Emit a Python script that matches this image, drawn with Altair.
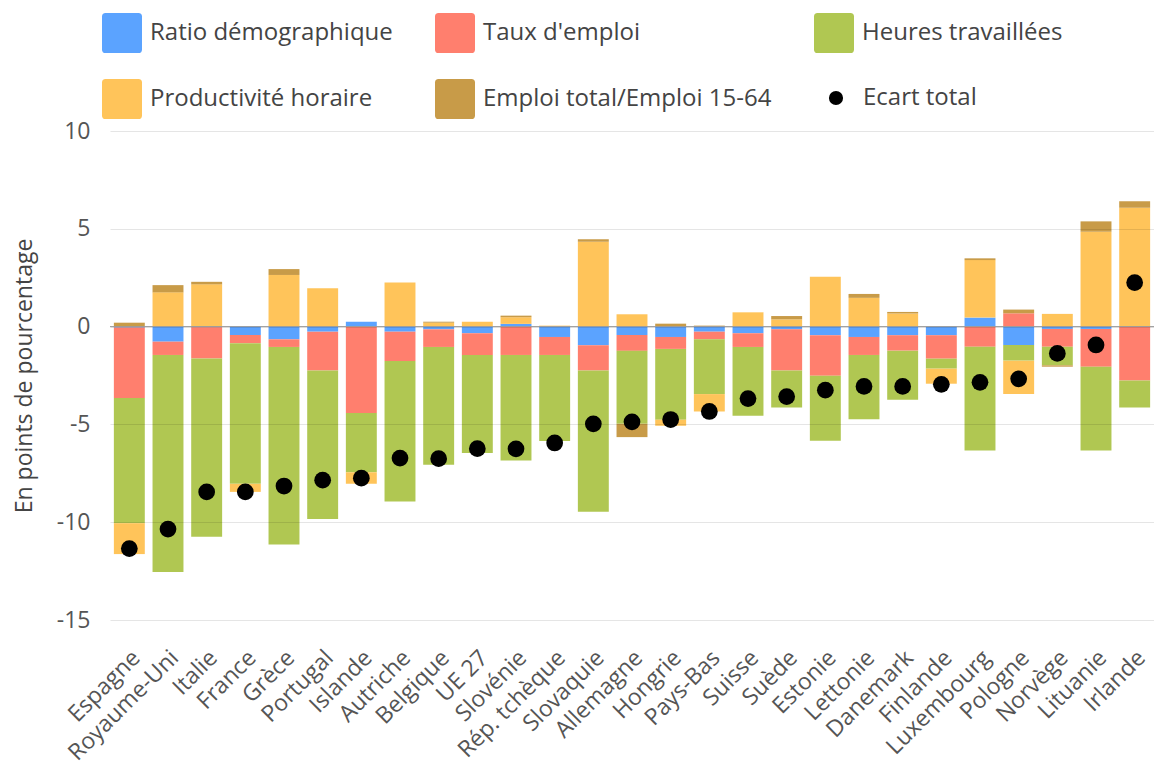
import altair as alt
import pandas as pd

countries = ["Espagne", "Royaume-Uni", "Italie", "France", "Grèce", "Portugal", "Islande",
             "Autriche", "Belgique", "UE 27", "Slovénie", "Rép. tchèque", "Slovaquie",
             "Allemagne", "Hongrie", "Pays-Bas", "Suisse", "Suède", "Estonie", "Lettonie",
             "Danemark", "Finlande", "Luxembourg", "Pologne", "Norvège", "Lituanie", "Irlande"]

ratio_demo = [-0.05, -0.77, -0.03, -0.43, -0.65, -0.26, 0.25, -0.26, -0.14, -0.34, 0.14, -0.53, -0.95,
              -0.43, -0.53, -0.26, -0.34, -0.14, -0.44, -0.53, -0.44, -0.44, 0.46, -0.94, -0.12, -0.12, 0.0]
taux_emploi = [-3.6, -0.68, -1.6, -0.42, -0.39, -1.99, -4.42, -1.5, -0.9, -1.11, -1.45, -0.92, -1.29,
               -0.81, -0.61, -0.39, -0.7, -2.1, -2.07, -0.92, -0.79, -1.2, -1.03, 0.68, -0.91, -1.93, -2.75]
heures = [-6.4, -11.1, -9.12, -7.19, -10.1, -7.59, -3.03, -7.18, -6.02, -5.01, -5.39, -4.4, -7.22,
          -3.73, -3.62, -2.8, -3.52, -1.89, -3.32, -3.29, -2.51, -0.51, -5.31, -0.8, -0.95, -4.29, -1.39]
productivite = [-1.58, 1.75, 2.16, -0.41, 2.64, 1.96, -0.58, 2.26, 0.2, 0.25, 0.34, 0.05, 4.34,
                0.63, -0.31, -0.89, 0.73, 0.37, 2.55, 1.47, 0.67, -0.77, 2.94, -1.7, 0.65, 4.85, 6.08]
emploi_total = [0.2, 0.37, 0.13, 0.0, 0.3, 0.0, 0.0, 0.0, 0.05, 0.0, 0.08, 0.0, 0.12,
                -0.68, 0.15, 0.05, 0.0, 0.17, 0.0, 0.2, 0.08, 0.0, 0.09, 0.19, -0.07, 0.53, 0.33]
ecart_total = [-11.35, -10.35, -8.45, -8.45, -8.15, -7.85, -7.75, -6.72, -6.75, -6.24, -6.25, -5.95, -4.97,
               -4.87, -4.75, -4.34, -3.68, -3.58, -3.25, -3.06, -3.06, -2.95, -2.85, -2.67, -1.37, -0.94, 2.25]

series_names = ["Ratio démographique", "Taux d'emploi", "Heures travaillées",
                "Productivité horaire", "Emploi total/Emploi 15-64"]
series_colors = ["#5ba3ff", "#ff7f6e", "#b0c752", "#ffc45a", "#c89b48"]
dot_name = "Ecart total"
dot_color = "#000000"

series_values = [ratio_demo, taux_emploi, heures, productivite, emploi_total]
rows = []
for i, c in enumerate(countries):
    for k, (name, vals) in enumerate(zip(series_names, series_values)):
        if vals[i] != 0:
            rows.append({"pays": c, "serie": name, "ordre": k, "valeur": vals[i]})
bars_df = pd.DataFrame(rows)
dots_df = pd.DataFrame({"pays": countries, "serie": dot_name, "valeur": ecart_total})
zero_df = pd.DataFrame({"valeur": [0]})

FONT = "Open Sans"
sym_path = ("M-0.82,-1L0.82,-1Q1,-1,1,-0.82L1,0.82Q1,1,0.82,1L-0.82,1Q-1,1,-1,0.82"
            "L-1,-0.82Q-1,-1,-0.82,-1Z")

color_scale = alt.Scale(domain=series_names, range=series_colors)
bar_legend = alt.Legend(
    title=None, orient="none", legendX=-8, legendY=-118, columns=3, direction="horizontal",
    padding=0, gridAlign="each",
    symbolType=sym_path, symbolSize=1600, symbolStrokeWidth=0, symbolOpacity=1,
    labelFont=FONT, labelFontSize=24, labelColor="#444", labelLimit=0, labelOffset=8,
    columnPadding=42, rowPadding=26,
)
dot_legend = alt.Legend(
    title=None, orient="none", legendX=714, legendY=-45, padding=0,
    symbolType="circle", symbolSize=200, symbolStrokeWidth=0, symbolOpacity=1,
    symbolFillColor=dot_color,
    labelFont=FONT, labelFontSize=24, labelColor="#444", labelLimit=0, labelOffset=15,
)

x_enc = alt.X("pays:N", sort=countries,
              scale=alt.Scale(paddingInner=0.2, paddingOuter=0.1),
              axis=alt.Axis(title=None, domain=False, ticks=False, grid=False,
                            labelAngle=315, labelAlign="right", labelBaseline="middle",
                            labelFont=FONT, labelFontSize=23, labelColor="#555",
                            labelPadding=34, labelOffset=7,
                            labelOverlap=False, labelBound=False))
y_scale = alt.Scale(domain=[-15, 10], nice=False, zero=False)
y_axis = alt.Axis(title="En points de pourcentage", values=[-15, -10, -5, 0, 5, 10],
                  labelExpr="'' + datum.value",
                  domain=False, ticks=False, grid=True, gridColor="#000", gridOpacity=0.1,
                  labelFont=FONT, labelFontSize=23, labelColor="#555", labelPadding=20,
                  titleFont=FONT, titleFontSize=23, titleColor="#444", titleFontWeight="normal",
                  titleAngle=270, titleX=-86, titleY=244.5, titleAlign="center",
                  titleBaseline="middle", zindex=1)

bars = alt.Chart(bars_df).mark_bar(opacity=1).encode(
    x=x_enc,
    y=alt.Y("valeur:Q", stack="zero", scale=y_scale, axis=y_axis),
    color=alt.Color("serie:N", scale=color_scale, legend=bar_legend),
    order=alt.Order("ordre:Q", sort="ascending"),
)

zero_rule = alt.Chart(zero_df).mark_rule(color="#999", strokeWidth=1).encode(
    y=alt.Y("valeur:Q", scale=y_scale),
)

dots = alt.Chart(dots_df).mark_point(size=280, opacity=1, filled=True, color=dot_color).encode(
    x=alt.X("pays:N", sort=countries),
    y=alt.Y("valeur:Q", scale=y_scale),
    shape=alt.Shape("serie:N", scale=alt.Scale(domain=[dot_name], range=["circle"]), legend=dot_legend),
)

chart = alt.layer(bars, zero_rule, dots).properties(
    width=1044, height=489,
    padding={"left": 102, "top": 123, "right": 0, "bottom": 147},
    autosize=alt.AutoSizeParams(type="none"),
).configure(font=FONT).configure_view(stroke=None)

chart.save("out.html", embed_options={"renderer": "svg", "actions": False})
